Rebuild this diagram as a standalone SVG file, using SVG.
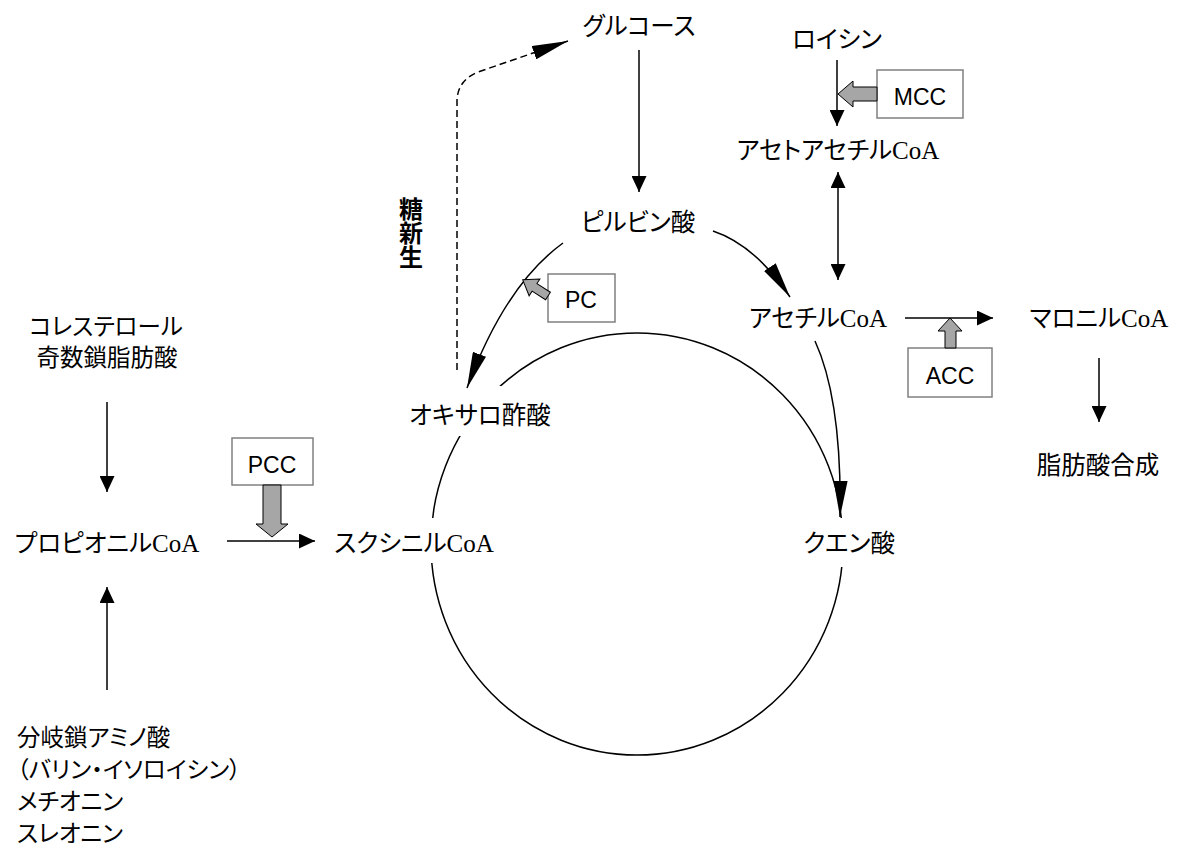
<svg xmlns="http://www.w3.org/2000/svg" width="1182" height="849" viewBox="0 0 1182 849">
<style>
.t{font-family:"Noto Sans CJK JP","Noto Sans CJK SC",sans-serif;font-size:24.5px;fill:#000;font-feature-settings:"palt";}
.s{font-size:23.5px;}
.r{font-family:"Liberation Serif",serif;font-size:25px;}
.b{font-family:"Noto Sans CJK JP",sans-serif;font-size:24px;font-weight:bold;fill:#000;writing-mode:vertical-rl;}
.bx{fill:#fff;stroke:#808080;stroke-width:1.5;}
.bt{font-family:"Liberation Sans",Arial,sans-serif;font-size:23px;fill:#000;text-anchor:middle;}
.ga{fill:#a6a6a6;stroke:#000;stroke-width:1;}
.ln{fill:none;stroke:#000;stroke-width:1.5;}
.m{text-anchor:middle;}
</style>
<defs>
<marker id="ah" viewBox="0 0 16 15" refX="16" refY="7.5" markerWidth="16" markerHeight="15" markerUnits="userSpaceOnUse" orient="auto-start-reverse"><path d="M0,0 L16,7.5 L0,15 Z" fill="#000"/></marker>
<marker id="al" viewBox="0 0 36 14" refX="36" refY="7" markerWidth="36" markerHeight="14" markerUnits="userSpaceOnUse" orient="auto"><path d="M0,0 L36,7 L0,14 Z" fill="#000"/></marker>
</defs>
<rect width="1182" height="849" fill="#fff"/>
<g id="tca-cycle">
<ellipse cx="637" cy="544" rx="206" ry="211" class="ln"/>
<rect x="400" y="386" width="160" height="50" fill="#fff"/>
<rect x="325" y="518" width="175" height="45" fill="#fff"/>
<rect x="800" y="518" width="100" height="49" fill="#fff"/>
</g>
<g id="connectors">
<line x1="639" y1="50" x2="639" y2="192" class="ln" marker-end="url(#ah)"/>
<line x1="837" y1="60" x2="837" y2="126" class="ln" marker-end="url(#ah)"/>
<line x1="838" y1="172" x2="838" y2="280" class="ln" marker-start="url(#ah)" marker-end="url(#ah)"/>
<line x1="905" y1="318" x2="993" y2="318" class="ln" marker-end="url(#ah)"/>
<line x1="1099" y1="358" x2="1099" y2="422" class="ln" marker-end="url(#ah)"/>
<line x1="107" y1="402" x2="107" y2="492" class="ln" marker-end="url(#ah)"/>
<line x1="107" y1="690" x2="107" y2="587" class="ln" marker-end="url(#ah)"/>
<line x1="227" y1="541" x2="315" y2="541" class="ln" marker-end="url(#ah)"/>
<path d="M713,231 Q755,245 790,297" class="ln" marker-end="url(#al)"/>
<path d="M563,243 Q505,285 467,388" class="ln" marker-end="url(#al)"/>
<path d="M815,341 Q842,400 840,517" class="ln" marker-end="url(#al)"/>
<path d="M457,370 V100 Q458,80 478,72 L568,41" class="ln" stroke-dasharray="7,4" marker-end="url(#al)"/>
</g>
<g id="mcc">
<rect x="877" y="70" width="86" height="48" class="bx"/>
<text x="920" y="105" class="bt">MCC</text>
<polygon points="877,87 853,87 853,81 838,94 853,107 853,101 877,101" class="ga"/>
</g>
<g id="pc">
<rect x="548" y="274" width="67" height="48" class="bx"/>
<text x="581" y="308" class="bt">PC</text>
<polygon points="0,-4.5 16,-4.5 16,-10 30,0 16,10 16,4.5 0,4.5" class="ga" transform="translate(548,296) rotate(212.6)"/>
</g>
<g id="acc">
<rect x="908" y="348" width="84" height="49" class="bx"/>
<text x="950" y="384" class="bt">ACC</text>
<polygon points="945,348 945,331 938,331 950,318 962,331 956,331 956,348" class="ga"/>
</g>
<g id="pcc">
<rect x="232" y="438" width="81" height="47" class="bx"/>
<text x="272" y="473" class="bt">PCC</text>
<polygon points="263,485 281,485 281,524 288,524 272,537 256,524 263,524" class="ga"/>
</g>
<g id="glucose"><text x="639" y="35" class="t m">グルコース</text></g>
<g id="leucine"><text x="837" y="48" class="t m">ロイシン</text></g>
<g id="acetoacetyl-coa"><text x="838" y="159" class="t m">アセトアセチル<tspan class="r">CoA</tspan></text></g>
<g id="pyruvate"><text x="638" y="231" class="t m">ピルビン酸</text></g>
<g id="acetyl-coa"><text x="818" y="327" class="t m">アセチル<tspan class="r">CoA</tspan></text></g>
<g id="malonyl-coa"><text x="1099" y="327" class="t m">マロニル<tspan class="r">CoA</tspan></text></g>
<g id="fatty-acid-synthesis"><text x="1098" y="474" class="t m">脂肪酸合成</text></g>
<g id="oxaloacetate"><text x="480" y="424" class="t m">オキサロ酢酸</text></g>
<g id="succinyl-coa"><text x="414" y="552" class="t m">スクシニル<tspan class="r">CoA</tspan></text></g>
<g id="propionyl-coa"><text x="107" y="552" class="t m">プロピオニル<tspan class="r">CoA</tspan></text></g>
<g id="citrate"><text x="849" y="552" class="t m">クエン酸</text></g>
<g id="cholesterol">
<text x="106" y="335" class="t s m">コレステロール</text>
<text x="107" y="366" class="t s m">奇数鎖脂肪酸</text>
</g>
<g id="amino-acids">
<text x="17" y="746" class="t s">分岐鎖アミノ酸</text>
<text x="17" y="778" class="t s">（バリン・イソロイシン）</text>
<text x="17" y="810" class="t s">メチオニン</text>
<text x="17" y="842" class="t s">スレオニン</text>
</g>
<g id="gluconeogenesis">
<text x="411" y="197" class="b">糖新生</text>
</g>
</svg>
